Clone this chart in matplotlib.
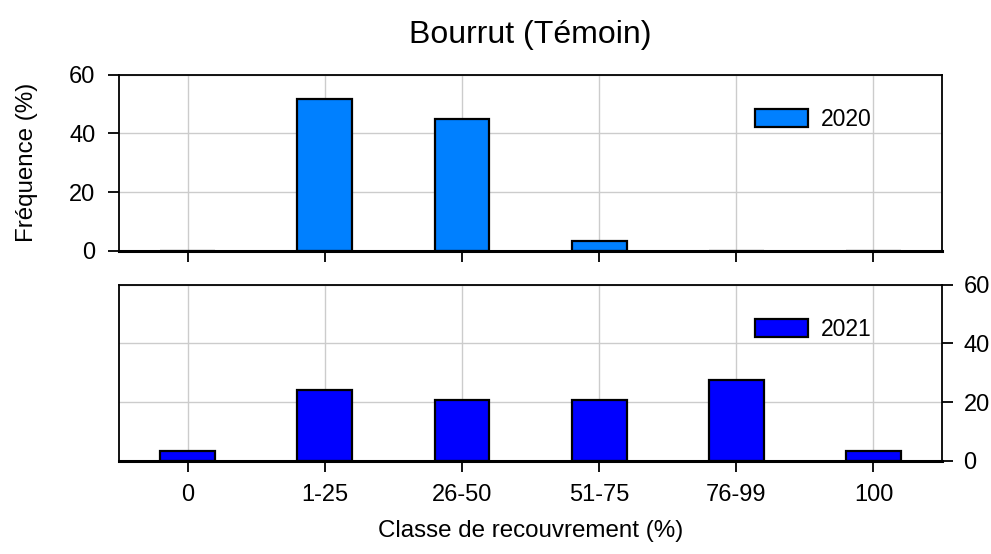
import matplotlib
matplotlib.use("Agg")
import matplotlib.pyplot as plt
import numpy as np

plt.rcParams['font.family'] = ['Liberation Sans', 'DejaVu Sans']

categories = ["0", "1-25", "26-50", "51-75", "76-99", "100"]
freq_2020 = [0, 51.7, 44.8, 3.4, 0, 0]
freq_2021 = [3.4, 24.1, 20.7, 20.7, 27.6, 3.4]
yticks = [0, 20, 40, 60]

fig = plt.figure(figsize=(9.91, 5.54), dpi=100)
L, R = 0.1201, 0.9506
ax1 = fig.add_axes([L, 0.5475, R - L, 0.8652 - 0.5475])
ax2 = fig.add_axes([L, 0.1684, R - L, 0.4861 - 0.1684])

x = np.arange(len(categories))

for ax, vals, col, lab in [(ax1, freq_2020, '#0080FF', '2020'), (ax2, freq_2021, '#0000FF', '2021')]:
    ax.bar(x, vals, width=0.4, color=col, edgecolor='black', linewidth=1.6, label=lab, zorder=3)
    ax.set_xlim(-0.5, 5.5)
    ax.set_ylim(0, 60)
    ax.set_yticks(yticks)
    ax.set_xticks(x)
    ax.grid(True, color='#cccccc', linewidth=1, zorder=0)
    ax.set_axisbelow(True)
    for s in ['left', 'right', 'top']:
        ax.spines[s].set_linewidth(1.3)
    ax.spines['bottom'].set_linewidth(2.2)
    ax.spines['bottom'].set_zorder(4)
    ax.tick_params(direction='out', length=8, width=1.3, labelsize=17)
    ax.legend(loc='center left', bbox_to_anchor=(0.773, 0.746), frameon=False,
              fontsize=16.5, handlelength=2.3, handleheight=0.8, handletextpad=0.55,
              borderpad=0, borderaxespad=0)

ax1.set_xticklabels([])
ax1.tick_params(axis='y', pad=9)
ax1.set_ylabel("Fréquence (%)", fontsize=17.4, labelpad=22)
ax1.set_title("Bourrut (Témoin)", fontsize=23, pad=23)

ax2.yaxis.tick_right()
ax2.yaxis.set_label_position('right')
ax2.tick_params(axis='y', pad=7.5)
ax2.set_xticklabels(categories)
ax2.tick_params(axis='x', pad=9)
ax2.set_xlabel("Classe de recouvrement (%)", fontsize=17.4, labelpad=9.5)

fig.savefig("out.png", dpi=100)
